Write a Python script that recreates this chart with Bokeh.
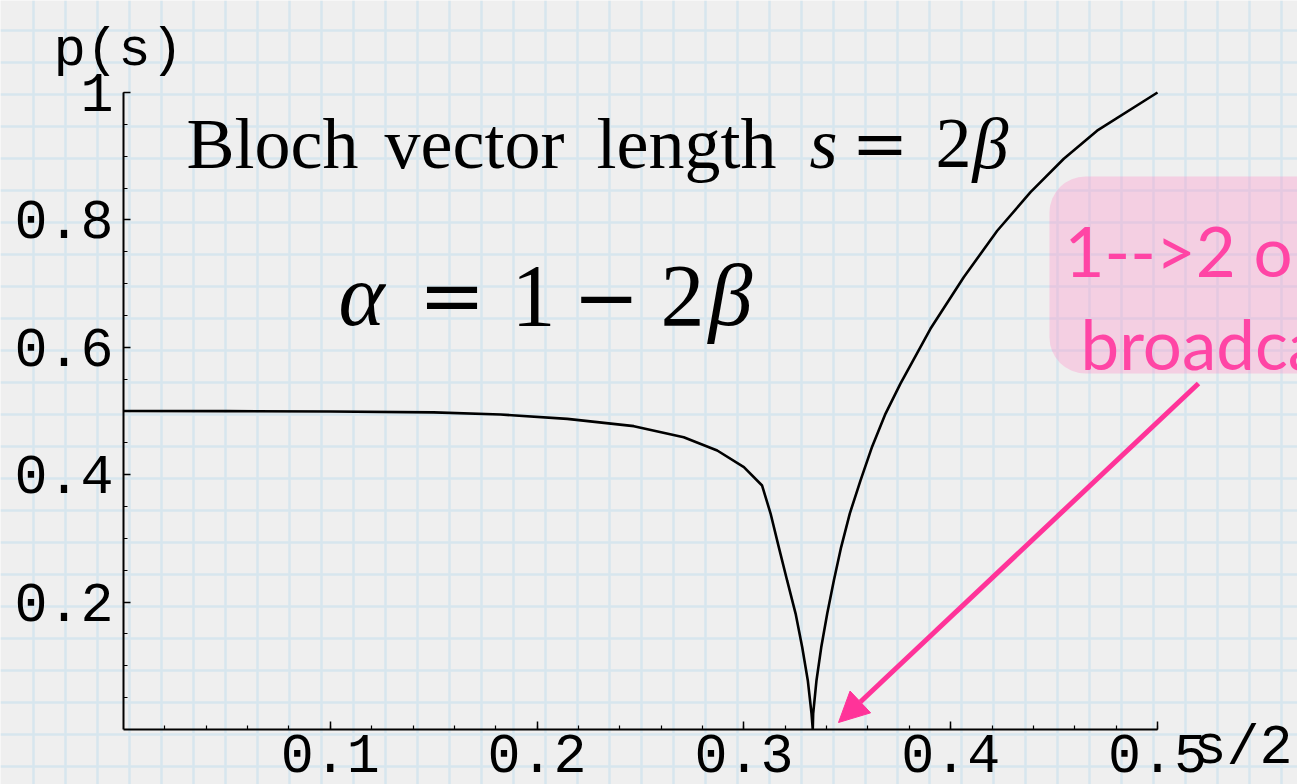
from bokeh.plotting import figure
from bokeh.models import (Range1d, LinearAxis, FixedTicker, Grid, Label, Arrow,
                          NormalHead, BoxAnnotation, CustomJSTickFormatter)
from bokeh.embed import file_html
from bokeh.resources import INLINE

# p(s) plotted against s/2: falling branch up to s/2 = 1/3, rising branch after it
s_half = [0.0, 0.05, 0.10, 0.15, 0.1823, 0.2146, 0.2468, 0.2709, 0.2871, 0.300,
          0.3088, 0.3129, 0.3169, 0.3209, 0.3250, 0.3282, 0.3309, 0.3327, 0.3333,
          0.3335, 0.3351, 0.3374, 0.3403, 0.3435, 0.3470, 0.3512, 0.3564, 0.3620,
          0.3685, 0.3757, 0.3902, 0.4063, 0.4225, 0.4386, 0.4547, 0.4708, 0.5]
p_s = [0.5, 0.4998, 0.4992, 0.4978, 0.4945, 0.4877, 0.4762, 0.4589, 0.438, 0.4118,
       0.383, 0.339, 0.286, 0.234, 0.182, 0.129, 0.077, 0.025, 0.0,
       0.025, 0.077, 0.129, 0.182, 0.234, 0.286, 0.339, 0.391, 0.444,
       0.496, 0.543, 0.629, 0.710, 0.783, 0.8435, 0.896, 0.940, 1.0]

x_ticks = [0.1, 0.2, 0.3, 0.4, 0.5]
x_minor = [round(0.02 * i, 2) for i in range(1, 26)]
y_ticks = [0.2, 0.4, 0.6, 0.8, 1.0]
y_minor = [round(0.05 * i, 2) for i in range(1, 21)]

W, H = 1297, 784
X0, XS = 123, 2068   # pixel of s/2 = 0 and pixels per unit
Y0, YS = 729, 637    # pixel of p = 0 and pixels per unit

BG = "#efefef"
GRID = "#d7e6ee"
PINK = "#ff3399"
PINK_TEXT = "#ff45a5"
MONO = "Liberation Mono"
SERIF = "Liberation Serif"
SYM = "DejaVu Serif"

p = figure(width=W, height=H, output_backend="svg", toolbar_location=None,
           x_range=Range1d((0 - X0) / XS, (W - X0) / XS),
           y_range=Range1d((Y0 - H) / YS, Y0 / YS),
           x_axis_type=None, y_axis_type=None, min_border=0,
           background_fill_color=BG, border_fill_color=BG,
           outline_line_color=None)
p.extra_x_ranges = {"px": Range1d(0, W)}
p.extra_y_ranges = {"py": Range1d(H, 0)}

# graph-paper background
p.add_layout(Grid(dimension=0, ticker=FixedTicker(ticks=list(range(33, W, 32))),
                  x_range_name="px", y_range_name="py",
                  grid_line_color=GRID, grid_line_width=2.5))
p.add_layout(Grid(dimension=1, ticker=FixedTicker(ticks=list(range(30, H, 32))),
                  x_range_name="px", y_range_name="py",
                  grid_line_color=GRID, grid_line_width=2.5))

fmt = CustomJSTickFormatter(code="return tick == 1 ? '1' : tick.toFixed(1)")

xaxis = LinearAxis(fixed_location=0, bounds=(0, 0.5),
                   ticker=FixedTicker(ticks=x_ticks, minor_ticks=x_minor),
                   formatter=fmt,
                   axis_line_color="black", axis_line_width=2,
                   major_tick_in=8, major_tick_out=0, major_tick_line_width=1.5,
                   minor_tick_in=4, minor_tick_out=0, minor_tick_line_width=1.2,
                   major_label_text_font=MONO, major_label_text_font_size="55px",
                   major_label_text_color="black", major_label_standoff=5)
p.add_layout(xaxis, "below")

yaxis = LinearAxis(fixed_location=0, bounds=(0, 1),
                   ticker=FixedTicker(ticks=y_ticks, minor_ticks=y_minor),
                   formatter=fmt,
                   axis_line_color="black", axis_line_width=2,
                   major_tick_in=7, major_tick_out=0, major_tick_line_width=1.5,
                   minor_tick_in=4, minor_tick_out=0, minor_tick_line_width=1.2,
                   major_label_text_font=MONO, major_label_text_font_size="55px",
                   major_label_text_color="black", major_label_standoff=10)
p.add_layout(yaxis, "left")

p.line(s_half, p_s, line_color="black", line_width=2.6)


def label(x, y, text, font, size, style="normal", color="black"):
    p.add_layout(Label(x=x, y=y, text=text, text_font=font, text_font_size=size,
                       text_font_style=style, text_color=color,
                       text_align="left", text_baseline="alphabetic",
                       x_range_name="px", y_range_name="py"))


# axis names
label(53, 50, "p(s)", MONO, "54px")
label(1193, 748, "s/2", MONO, "55px")

# headline
label(186, 143, "Bloch", SERIF, "72px")
label(384, 143, "vector", SERIF, "72px")
label(596, 143, "length", SERIF, "72px")
label(809, 143, "s", SERIF, "72px", "italic")
label(851, 143, "=", SYM, "68px")
label(935, 143, "2", SERIF, "72px")
label(972, 143, "β", SERIF, "72px", "italic")

# formula
label(338, 295, "α", SERIF, "88px", "italic")
label(418, 295, "=", SYM, "80px")
label(511, 295, "1", SERIF, "88px")
label(572, 295, "−", SYM, "80px")
label(660, 295, "2", SERIF, "88px")
label(708, 295, "β", SERIF, "88px", "italic")

# callout
p.add_layout(BoxAnnotation(left=1049, right=1420, top=176, bottom=373,
                           border_radius=36, fill_color="#ff8cc8", fill_alpha=0.32,
                           line_color=None, x_range_name="px", y_range_name="py"))
label(1064, 250, "1-->2 optimal", "Lato", "69px", color=PINK_TEXT)
label(1080, 343, "broadcasting", "Lato", "69px", color=PINK_TEXT)

p.add_layout(Arrow(x_start=1198, y_start=383, x_end=838, y_end=722,
                   line_color=PINK, line_width=5,
                   end=NormalHead(size=30, fill_color=PINK, line_color=PINK),
                   x_range_name="px", y_range_name="py"))

open("out.html", "w").write(file_html(p, INLINE))
